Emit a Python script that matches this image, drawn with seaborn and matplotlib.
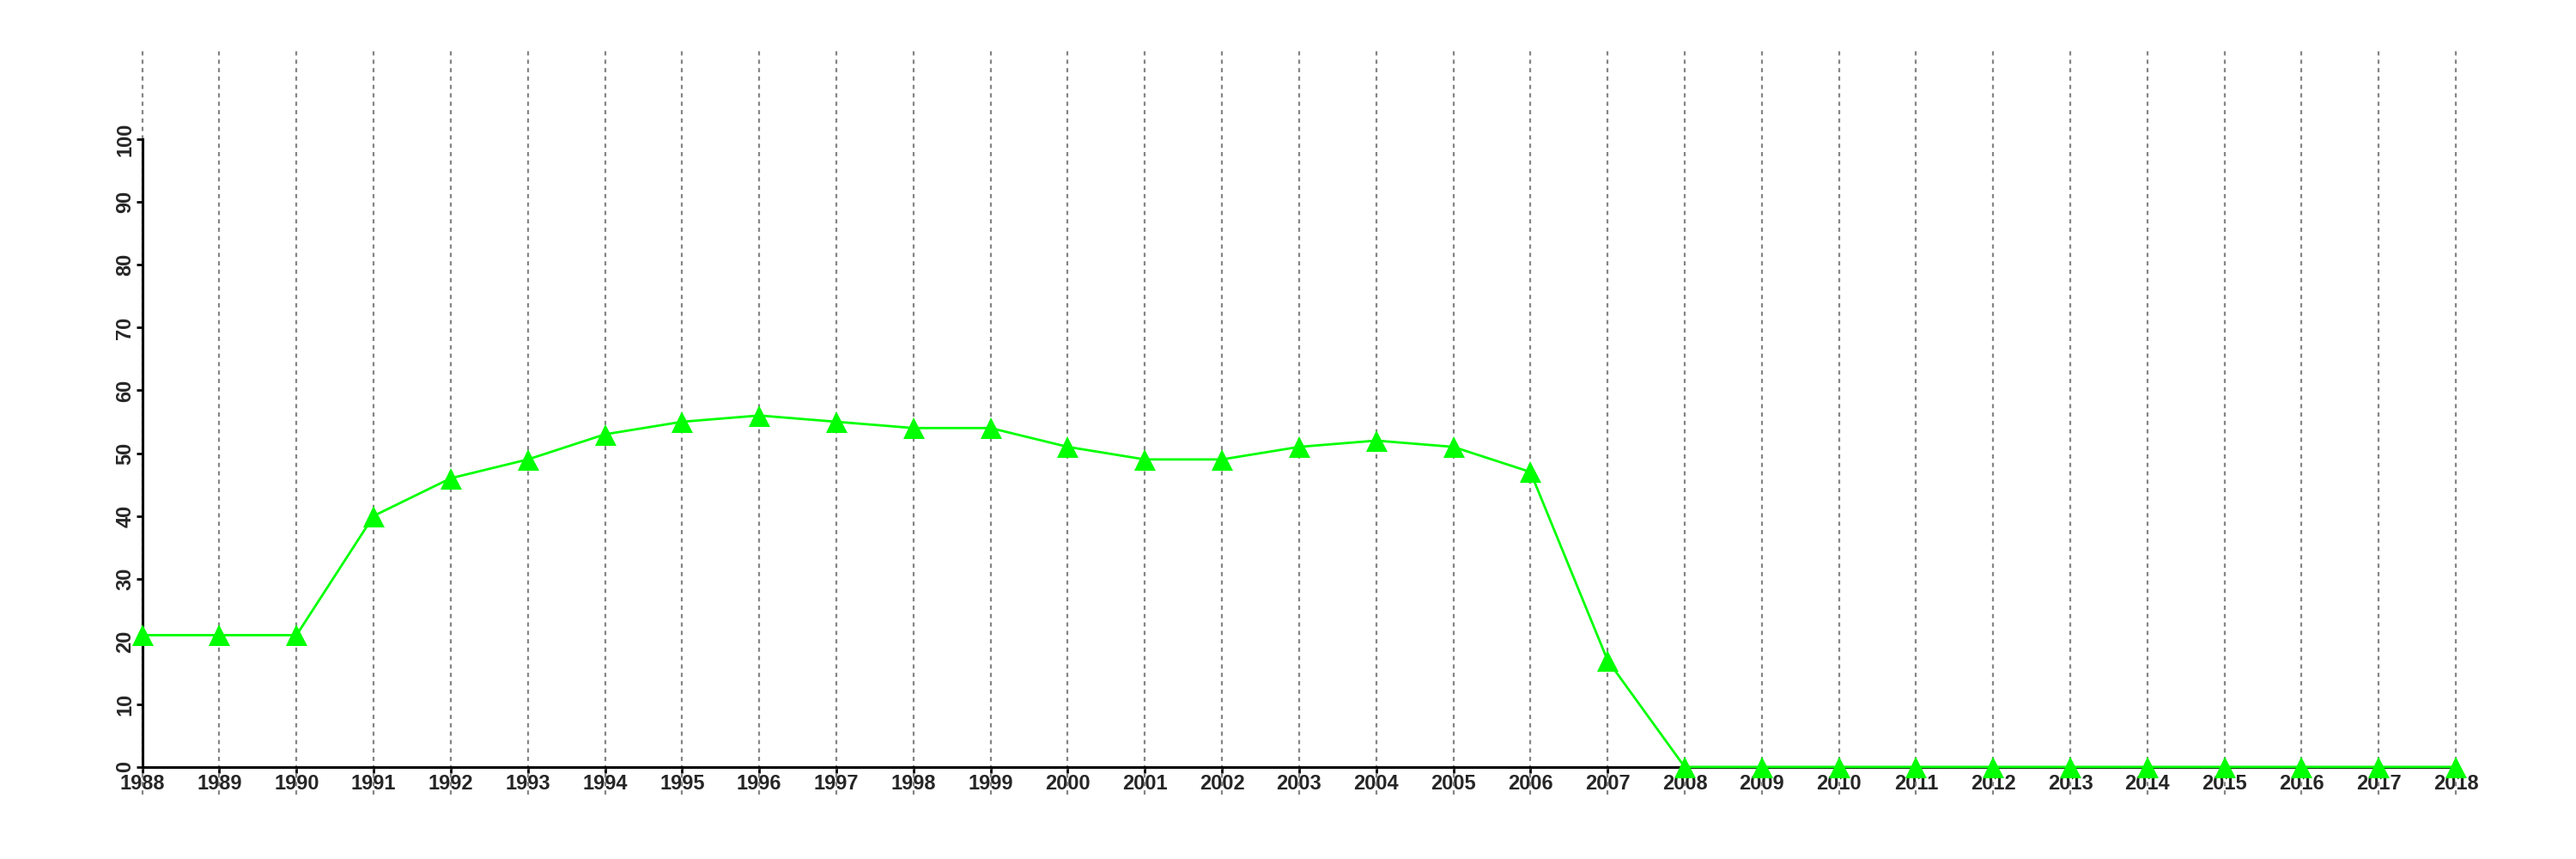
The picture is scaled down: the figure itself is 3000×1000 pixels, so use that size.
import numpy as np
import pandas as pd
import seaborn as sns
import matplotlib.pyplot as plt

# Values
years = list(range(1988, 2019))
values = [21, 21, 21, 40, 46, 49, 53, 55, 56, 55, 54, 54, 51, 49, 49, 51, 52, 51, 47, 17,
          0, 0, 0, 0, 0, 0, 0, 0, 0, 0, 0]
y_ticks = list(range(0, 101, 10))

df = pd.DataFrame({"Year": years, "Value": values})

sns.set_style("white")
plt.rcParams["font.family"] = ["Liberation Sans", "DejaVu Sans"]
plt.rcParams["font.weight"] = "bold"

fig = plt.figure(figsize=(30, 10), dpi=100)
ax = fig.add_axes([0.0193, 0.075, 0.97, 0.868])

# dotted year guides
for yr in years:
    ax.axvline(yr, color="#858585", lw=1.6, ls=(0, (2.2, 2.2)), zorder=1)

sns.lineplot(data=df, x="Year", y="Value", color="#00ff00", lw=2, marker="^",
             markersize=18, markeredgewidth=0, ax=ax, zorder=3)

# R-like axis extents (4% padding around 1988-2018 and 0-110)
ax.set_xlim(1986.8, 2019.2)
ax.set_ylim(-4.4, 114.4)

for s in ["top", "right"]:
    ax.spines[s].set_visible(False)
ax.spines["left"].set_position(("data", 1988))
ax.spines["bottom"].set_position(("data", 0))
ax.spines["left"].set_bounds(0, 100)
ax.spines["bottom"].set_bounds(1988, 2018)
ax.spines["left"].set_linewidth(2.2)
ax.spines["bottom"].set_linewidth(2.2)
ax.spines["left"].set_color("black")
ax.spines["bottom"].set_color("black")

ax.set_xticks(years)
ax.set_xticklabels([str(y) for y in years], fontsize=17, fontweight="bold")
ax.set_yticks(y_ticks)
ax.set_yticklabels([str(v) for v in y_ticks], fontsize=17, fontweight="bold",
                   rotation=90, va="center")
ax.tick_params(axis="both", direction="out", length=5, width=2, color="black", pad=1,
               bottom=True, left=True)
ax.set_xlabel("")
ax.set_ylabel("")

fig.savefig("out.png", dpi=100)
